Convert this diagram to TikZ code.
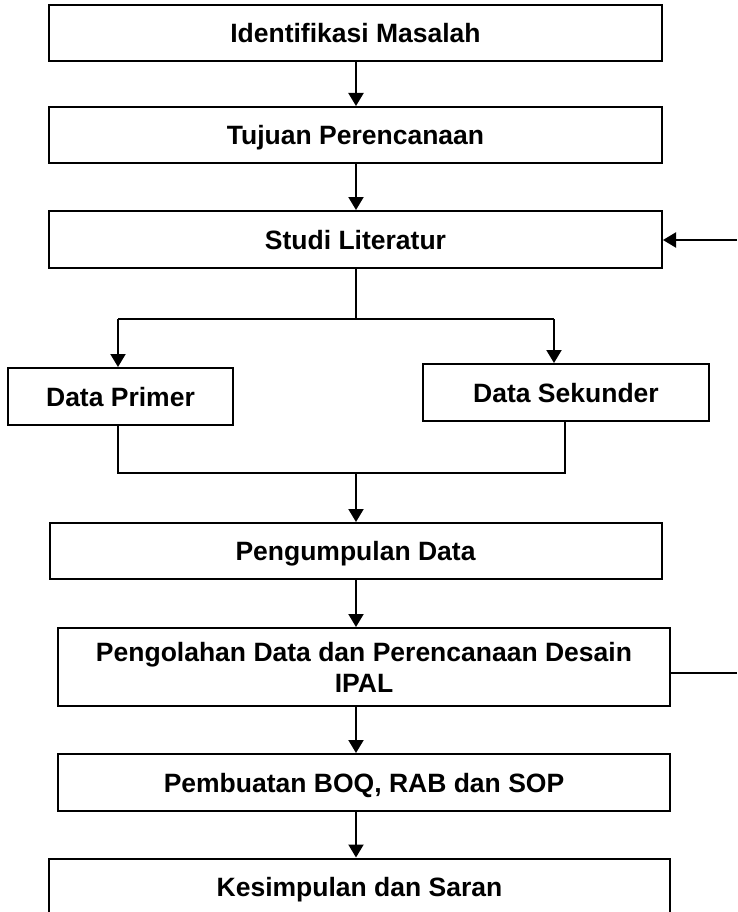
\documentclass[tikz,border=0pt]{standalone}
\usepackage{fontspec}
\setmainfont{Liberation Sans}
\usetikzlibrary{arrows.meta}
\begin{document}
\begin{tikzpicture}[x=1pt,y=-1pt,
  boxbase/.style={draw=black,line width=2pt,rectangle,inner sep=0pt,
    font=\bfseries\fontsize{26.5}{31}\selectfont,align=center},
  box/.style={boxbase,text height=19pt,text depth=0pt},
  conn/.style={line width=2pt,draw=black},
  arr/.style={conn,-{Triangle[length=13pt,width=15pt]}}]
\useasboundingbox (0,0) rectangle (737,912);
\clip (0,0) rectangle (737,912);
\fill[white] (0,0) rectangle (737,912);
% boxes
\node[box,minimum width=613pt,minimum height=56pt] (b1) at (355.5,33) {Identifikasi Masalah};
\node[box,minimum width=613pt,minimum height=56pt] (b2) at (355.5,135) {Tujuan Perencanaan};
\node[box,minimum width=613pt,minimum height=57pt] (b3) at (355.5,239.5) {Studi Literatur};
\node[box,minimum width=225pt,minimum height=57pt] (dp) at (120.5,396.5) {Data Primer};
\node[box,minimum width=286pt,minimum height=57pt] (ds) at (566,392.5) {Data Sekunder};
\node[box,minimum width=612pt,minimum height=56pt] (b4) at (355.5,551) {Pengumpulan Data};
\node[boxbase,minimum width=612pt,minimum height=78pt] (b5) at (364,667) {Pengolahan Data dan Perencanaan Desain\\IPAL};
\node[box,minimum width=612pt,minimum height=57pt] (b6) at (364,782.5) {Pembuatan BOQ, RAB dan SOP};
\node[box,minimum width=621pt,minimum height=57pt] (b7) at (359.5,887) {Kesimpulan dan Saran};
% helper coordinates
\coordinate (cx) at (356,0);
\coordinate (split) at (356,319);
\coordinate (sl) at (118,319);
\coordinate (sr) at (554,319);
\coordinate (ml) at (118,473);
\coordinate (mr) at (565,473);
\coordinate (merge) at (356,473);
\coordinate (fin) at (737,240);
\coordinate (fout) at (737,673);
% connectors
\draw[arr] (b1.south -| cx) -- (b2.north -| cx);
\draw[arr] (b2.south -| cx) -- (b3.north -| cx);
\draw[conn] (b3.south -| cx) -- (split);
\draw[conn] (sl) -- (sr);
\draw[arr] (sl) -- (sl |- dp.north);
\draw[arr] (sr) -- (sr |- ds.north);
\draw[conn] (ml |- dp.south) -- (ml) -- (mr) -- (mr |- ds.south);
\draw[arr] (merge) -- (b4.north -| cx);
\draw[arr] (b4.south -| cx) -- (b5.north -| cx);
\draw[arr] (b5.south -| cx) -- (b6.north -| cx);
\draw[arr] (b6.south -| cx) -- (b7.north -| cx);
\draw[arr] (fin) -- (b3.east |- fin);
\draw[conn] (b5.east |- fout) -- (fout);
\end{tikzpicture}
\end{document}
